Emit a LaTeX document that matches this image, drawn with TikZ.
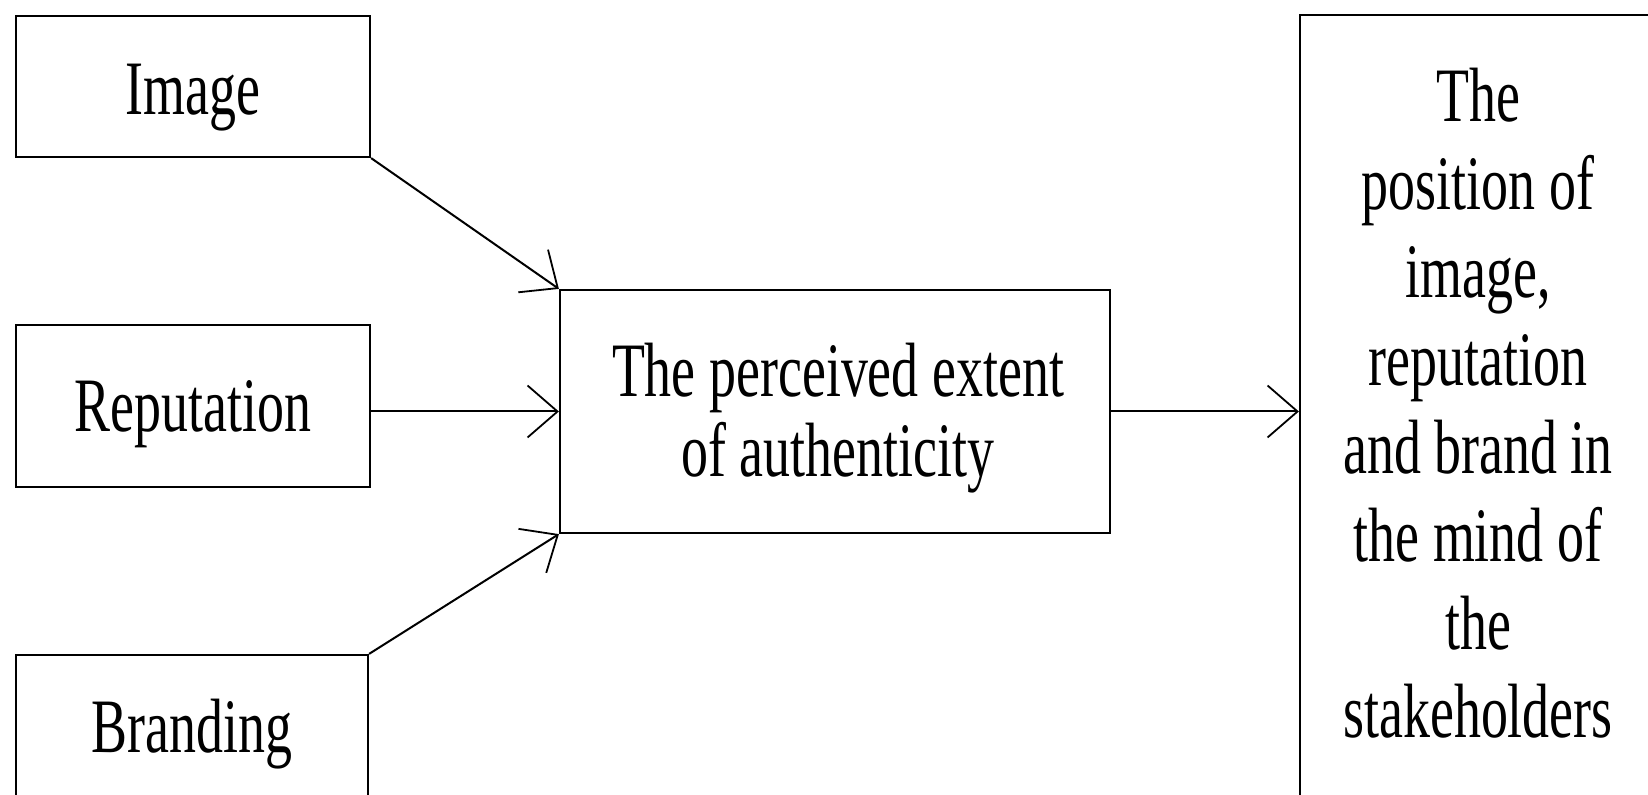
\documentclass[tikz,border=0pt]{standalone}
\usepackage{fontspec}
\setmainfont{Liberation Serif}
\usetikzlibrary{arrows.meta}
\newcommand{\sqtext}[2][44pt]{\scalebox{0.70}[1]{\fontsize{38.5pt}{#1}\selectfont\begin{tabular}[t]{@{}c@{}}#2\end{tabular}}}
\tikzset{
  box/.style={draw=black, line width=1.1pt, inner sep=0pt, fill=none},
  txt/.style={inner sep=0pt, anchor=base},
  conn/.style={draw=black, line width=1pt, -{Straight Barb[length=15pt, width=26pt, line width=0.9pt]}}
}
\begin{document}
\begin{tikzpicture}[x=0.5pt, y=-0.5pt]
\useasboundingbox (0,0) rectangle (1648,795);
\fill[white] (0,0) rectangle (1648,795);
% boxes
\node[box, minimum width=177pt, minimum height=70.5pt] (img) at (193,86.5) {};
\node[box, minimum width=177pt, minimum height=81pt] (rep) at (193,406) {};
\node[box, minimum width=176pt, minimum height=71pt] (brd) at (192,726) {};
\node[box, minimum width=275pt, minimum height=121.5pt] (cen) at (835,411.5) {};
\node[box, minimum width=180pt, minimum height=391pt] (rgt) at (1480,406) {};
% texts
\node[txt] (imgt) at (193,115) {\sqtext{Image}};
\node[txt] (rept) at (193,432) {\sqtext{Reputation}};
\node[txt] (brdt) at (192,752) {\sqtext{Branding}};
\node[txt] (cent) at (838,397) {\sqtext[40pt]{The perceived extent\\of authenticity}};
\node[txt] (rgtt) at (1478,122) {\sqtext[44pt]{The\\position of\\image,\\reputation\\and brand in\\the mind of\\the\\stakeholders}};
% connectors
\draw[conn] (img.south east) -- (cen.north west);
\draw[conn] (rep.east |- cen.west) -- (cen.west);
\draw[conn] (brd.north east) -- (cen.south west);
\draw[conn] (cen.east) -- (cen.east -| rgt.west);
\end{tikzpicture}
\end{document}
